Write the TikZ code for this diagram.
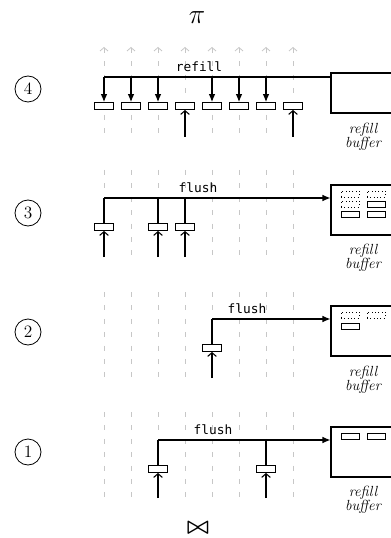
\documentclass[tikz,border=0pt]{standalone}
\usepackage{fontspec}
\newfontfamily\codefont{DejaVu Sans Mono}
\usetikzlibrary{arrows.meta,calc}

\begin{document}
\begin{tikzpicture}[x=0.75pt,y=-0.75pt,
  lane/.style={draw=black!22, line width=0.6pt, dash pattern=on 3.75pt off 6.3pt},
  lanetip/.style={{Straight Barb[length=2.6pt,width=6pt]}-},
  wire/.style={draw, line width=0.8pt},
  push/.style={wire, -{Latex[length=6pt,width=5pt]}},
  feed/.style={wire, -{Straight Barb[length=2.8pt,width=6.5pt]}},
  tuple/.style={draw, line width=0.7pt, rectangle, minimum width=14.25pt, minimum height=5.25pt, inner sep=0pt},
  held/.style={draw, line width=0.7pt, rectangle, minimum width=13.5pt, minimum height=4.5pt, inner sep=0pt},
  freed/.style={held, line width=0.5pt, dotted},
  buffer/.style={draw, line width=0.8pt, rectangle, minimum width=52.5pt, inner sep=0pt},
  caption/.style={align=center, font=\itshape\fontsize{11pt}{10.5pt}\selectfont, inner sep=0pt},
  op/.style={font=\codefont\fontsize{9.6pt}{11pt}\selectfont, inner sep=0pt},
  step num/.style={draw, circle, line width=0.6pt, minimum size=19.5pt, inner sep=0pt, font=\fontsize{13pt}{15pt}\selectfont},
]
\useasboundingbox (0,0) rectangle (391,538);

% operator symbols
\node[font=\huge] (proj) at (197,18) {$\pi$};
\node[font=\LARGE\boldmath] (natjoin) at (198,528) {$\bowtie$};

% step numbers
\node[step num] (n4) at (28,89) {4};
\node[step num] (n3) at (28,213) {3};
\node[step num] (n2) at (28,332) {2};
\node[step num] (n1) at (28,452) {1};

% pipeline lanes
\foreach \i in {0,...,7} {
  \draw[lane, lanetip] ({104+27*\i},47) -- ({104+27*\i},137);
  \draw[lane] ({104+27*\i},170) -- ({104+27*\i},257);
  \draw[lane] ({104+27*\i},292) -- ({104+27*\i},378);
  \draw[lane] ({104+27*\i},412) -- ({104+27*\i},498);
}

% refill buffers
\node[buffer, minimum height=30pt] (buf4) at (366,93) {};
\node[buffer, minimum height=37.5pt] (buf3) at (366,210) {};
\node[buffer, minimum height=37.5pt] (buf2) at (366,331) {};
\node[buffer, minimum height=37.5pt] (buf1) at (366,452) {};

\node[caption] (c4) at (363,136.5) {refill\\buffer};
\node[caption] (c3) at (363,257.5) {refill\\buffer};
\node[caption] (c2) at (363,380) {refill\\buffer};
\node[caption] (c1) at (363,499.5) {refill\\buffer};

% buffer contents
\node[freed] (b3a) at (350,194) {};
\node[freed] (b3b) at (376,194) {};
\node[freed] (b3c) at (350,204) {};
\node[held]  (b3d) at (376,204) {};
\node[held]  (b3e) at (350,214) {};
\node[held]  (b3f) at (376,214) {};

\node[freed] (b2a) at (350,315) {};
\node[freed] (b2b) at (376,315) {};
\node[held]  (b2c) at (350,326) {};

\node[held] (b1a) at (350,436) {};
\node[held] (b1b) at (376,436) {};

% step 4: refill
\foreach \i in {0,...,7} { \node[tuple, fill=white] (r\i) at ({104+27*\i},106) {}; }
\coordinate (rl) at (104,77);
\coordinate (rb) at (0,137);
\draw[wire] (rl) -- (rl -| buf4.west);
\foreach \i in {0,1,2,4,5,6} { \draw[push] (r\i |- rl) -- (r\i.north); }
\foreach \i in {3,7} { \draw[feed] (r\i |- rb) -- (r\i.south); }
\node[op] (t4) at (199,67) {refill};

% step 3: flush
\coordinate (f3) at (104,198);
\coordinate (fb3) at (0,257);
\node[tuple, fill=white] (s3a) at (104,227) {};
\node[tuple, fill=white] (s3b) at (158,227) {};
\node[tuple, fill=white] (s3c) at (185,227) {};
\draw[push] (f3) -- (f3 -| buf3.west);
\foreach \n in {s3a,s3b,s3c} {
  \draw[wire] (\n.north) -- (\n |- f3);
  \draw[feed] (\n |- fb3) -- (\n.south);
}
\node[op] (t3) at (198,188) {flush};

% step 2: flush
\coordinate (f2) at (212,319);
\coordinate (fb2) at (0,378);
\node[tuple, fill=white] (s2a) at (212,348) {};
\draw[push] (f2) -- (f2 -| buf2.west);
\draw[wire] (s2a.north) -- (s2a |- f2);
\draw[feed] (s2a |- fb2) -- (s2a.south);
\node[op] (t2) at (247,309) {flush};

% step 1: flush
\coordinate (f1) at (158,440);
\coordinate (fb1) at (0,498);
\node[tuple, fill=white] (s1a) at (158,469) {};
\node[tuple, fill=white] (s1b) at (266,469) {};
\draw[push] (f1) -- (f1 -| buf1.west);
\foreach \n in {s1a,s1b} {
  \draw[wire] (\n.north) -- (\n |- f1);
  \draw[feed] (\n |- fb1) -- (\n.south);
}
\node[op] (t1) at (213,430) {flush};
\end{tikzpicture}
\end{document}
